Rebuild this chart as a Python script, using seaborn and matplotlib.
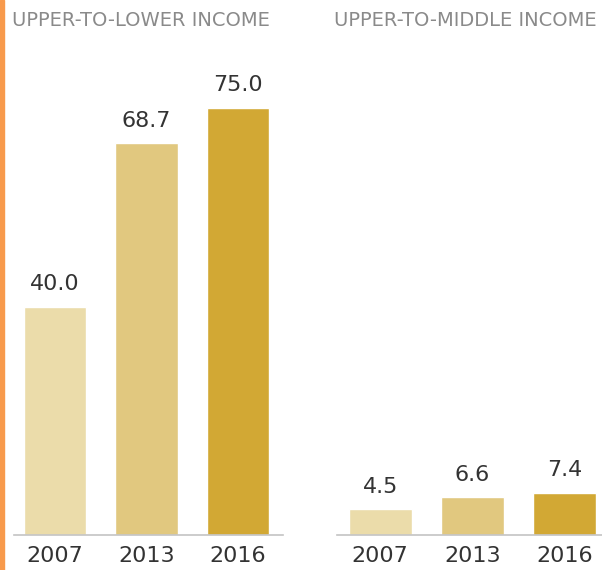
import matplotlib
matplotlib.use("Agg")
import matplotlib.pyplot as plt
from matplotlib.patches import Rectangle
import seaborn as sns
import pandas as pd

years = ["2007", "2013", "2016"]
upper_to_lower = [40.0, 68.7, 75.0]
upper_to_middle = [4.5, 6.6, 7.4]
titles = ["UPPER-TO-LOWER INCOME", "UPPER-TO-MIDDLE INCOME"]
bar_colors = ["#ebdcaa", "#e1c87f", "#d2a834"]

sns.set_style("white")
plt.rcParams["font.family"] = ["DejaVu Sans"]

fig = plt.figure(figsize=(6.02, 5.70), dpi=100)
fig.patches.append(Rectangle((0, 0), 4 / 602, 1, transform=fig.transFigure,
                             color="#f89a4c", zorder=0))

# axes placed by pixel measurements off the reference
positions = [
    [14 / 602, 35 / 570, 269 / 602, 456 / 570],
    [337 / 602, 35 / 570, 265 / 602, 456 / 570],
]
xlims = [(-0.448, 2.49), (-0.47, 2.41)]
title_x = [12 / 602, 334 / 602]

for vals, title, pos, xl, tx in zip([upper_to_lower, upper_to_middle], titles,
                                    positions, xlims, title_x):
    ax = fig.add_axes(pos)
    df = pd.DataFrame({"year": years, "value": vals})
    sns.barplot(data=df, x="year", y="value", hue="year", palette=bar_colors,
                width=0.68, legend=False, ax=ax, saturation=1)
    ax.set_ylim(0, 80)
    ax.set_xlim(*xl)
    for c in ax.containers:
        ax.bar_label(c, fmt="%.1f", padding=9, fontsize=16, color="#333333")
    for s in ["top", "left", "right"]:
        ax.spines[s].set_visible(False)
    ax.spines["bottom"].set_color("#c4c4c4")
    ax.spines["bottom"].set_linewidth(1.2)
    ax.set_yticks([])
    ax.set_xlabel("")
    ax.set_ylabel("")
    ax.tick_params(axis="x", length=0, pad=8, labelsize=16, labelcolor="#333333")
    fig.text(tx, 1 - 26.5 / 570, title, fontsize=14, color="#8a8a8a",
             ha="left", va="baseline")

fig.savefig("out.png", dpi=100)
